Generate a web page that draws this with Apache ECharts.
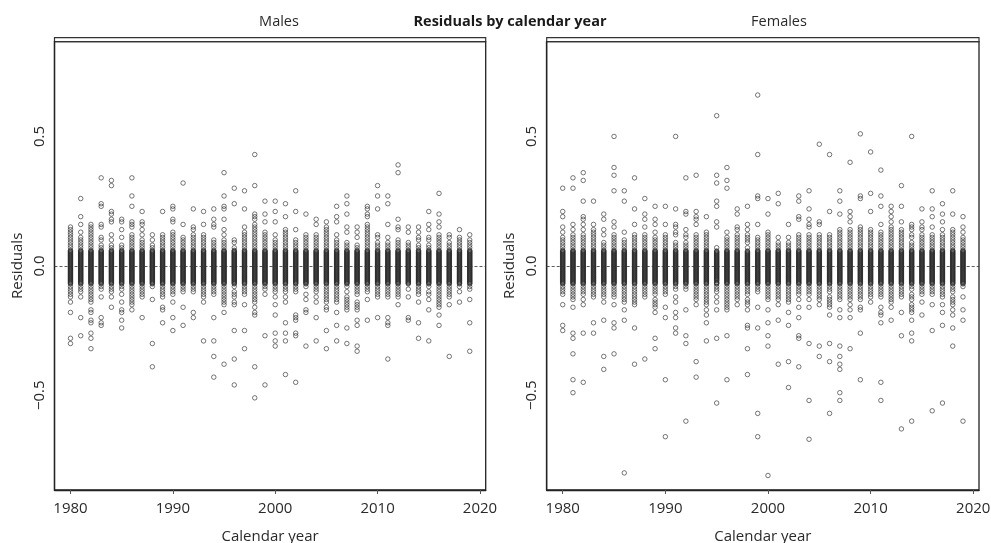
<!DOCTYPE html>
<html>
<head>
<meta charset="utf-8">
<script src="https://cdn.jsdelivr.net/npm/echarts@6/dist/echarts.min.js"></script>
<style>html,body{margin:0;padding:0;background:#fff}#c{width:991px;height:543px}</style>
</head>
<body>
<div id="c"></div>
<script>
const years = [1980,1981,1982,1983,1984,1985,1986,1987,1988,1989,1990,1991,1992,1993,1994,1995,1996,1997,1998,1999,2000,2001,2002,2003,2004,2005,2006,2007,2008,2009,2010,2011,2012,2013,2014,2015,2016,2017,2018,2019];
const xTicks = [1980,1990,2000,2010,2020];
const yTicks = [-0.5,0,0.5];
// residuals in hundredths, one array per calendar year
const malesResiduals = [
[15,14,13,12,11,10,9,8,7,6,5,4,3,2,1,0,-1,-2,-3,-4,-5,-6,-7,-8,-9,-10,-11,-12,-14,-18,-28,-30],
[26,19,16,13,11,10,9,8,7,6,5,4,3,2,1,0,-1,-2,-3,-4,-5,-6,-7,-8,-9,-10,-12,-20,-27],
[16,15,14,13,12,11,10,9,8,7,6,5,4,3,2,1,0,-1,-2,-3,-4,-5,-6,-7,-8,-9,-10,-11,-12,-13,-14,-17,-18,-21,-22,-26,-28,-32],
[34,24,23,16,15,11,10,8,7,6,5,4,3,2,1,0,-1,-2,-3,-4,-5,-6,-7,-8,-9,-12,-20,-22,-23],
[33,31,21,20,18,17,12,10,8,7,6,5,4,3,2,1,0,-1,-2,-3,-4,-5,-6,-7,-8,-9,-10,-12,-16],
[18,17,14,11,8,7,6,5,4,3,2,1,0,-1,-2,-3,-4,-5,-6,-7,-8,-9,-11,-14,-17,-18,-21,-24],
[34,27,23,17,16,15,12,11,10,9,8,7,6,5,4,3,2,1,0,-1,-2,-3,-4,-5,-6,-7,-8,-9,-10,-11,-12,-13,-14,-15,-17],
[21,17,16,14,12,10,9,8,7,6,5,4,3,2,1,0,-1,-2,-3,-4,-5,-6,-7,-8,-9,-10,-11,-12,-20],
[12,10,8,7,6,5,4,3,2,1,0,-1,-2,-3,-4,-5,-6,-7,-8,-13,-30,-39],
[21,12,11,10,9,8,7,6,5,4,3,2,1,0,-1,-2,-3,-4,-5,-6,-7,-8,-9,-10,-11,-12,-16,-17,-22],
[23,22,18,17,13,12,11,10,9,8,7,6,5,4,3,2,1,0,-1,-2,-3,-4,-5,-6,-7,-8,-9,-10,-11,-14,-20,-25],
[32,16,11,10,9,8,7,6,5,4,3,2,1,0,-1,-2,-3,-4,-5,-6,-7,-8,-9,-10,-16,-23],
[22,15,14,12,11,10,9,8,7,6,5,4,3,2,1,0,-1,-2,-3,-4,-5,-6,-7,-8,-9,-10,-18,-20],
[21,16,12,11,10,9,8,7,6,5,4,3,2,1,0,-1,-2,-3,-4,-5,-6,-7,-8,-9,-10,-11,-12,-14,-29],
[22,18,16,15,10,9,8,7,6,5,4,3,2,1,0,-1,-2,-3,-4,-5,-6,-7,-8,-9,-10,-11,-20,-29,-35,-43],
[36,27,23,22,18,14,12,10,9,8,7,6,5,4,3,2,1,0,-1,-2,-3,-4,-5,-6,-7,-8,-9,-10,-11,-12,-13,-14,-15,-18,-38],
[30,24,10,9,7,6,5,4,3,2,1,0,-1,-2,-3,-4,-5,-6,-7,-8,-10,-11,-12,-14,-15,-25,-36,-46],
[29,22,15,13,12,11,10,9,8,7,6,5,4,3,2,1,0,-1,-2,-3,-4,-5,-6,-7,-8,-9,-10,-11,-15,-25,-32],
[43,31,20,19,18,16,15,14,13,12,11,10,9,8,7,6,5,4,3,2,1,0,-1,-2,-3,-4,-5,-6,-7,-8,-9,-10,-11,-12,-13,-14,-16,-18,-19,-39,-51],
[25,20,17,13,12,11,10,9,8,7,6,5,4,3,2,1,0,-1,-2,-3,-4,-5,-6,-7,-8,-9,-11,-27,-46],
[25,21,17,12,10,9,8,7,6,5,4,3,2,1,0,-1,-2,-3,-4,-5,-6,-7,-8,-9,-10,-12,-15,-19,-26,-29,-31],
[24,19,14,13,12,11,10,9,8,7,6,5,4,3,2,1,0,-1,-2,-3,-4,-5,-6,-7,-8,-9,-10,-12,-14,-22,-26,-29,-42],
[29,21,14,10,9,8,7,6,5,4,3,2,1,0,-1,-2,-3,-4,-5,-6,-7,-8,-9,-10,-19,-20,-21,-26,-27,-45],
[20,12,11,10,9,8,7,6,5,4,3,2,1,0,-1,-2,-3,-4,-5,-6,-7,-8,-11,-13,-17,-18,-31],
[18,16,12,11,10,9,8,7,6,5,4,3,2,1,0,-1,-2,-3,-4,-5,-6,-7,-8,-9,-10,-12,-14,-20,-29],
[17,15,14,13,12,11,10,9,8,7,6,5,4,3,2,1,0,-1,-2,-3,-4,-5,-6,-7,-8,-9,-10,-11,-12,-13,-14,-16,-17,-25,-32],
[23,19,17,12,10,9,8,7,6,5,4,3,2,1,0,-1,-2,-3,-4,-5,-6,-7,-8,-9,-10,-11,-12,-13,-14,-18,-23,-29],
[27,24,20,15,13,9,8,7,6,5,4,3,2,1,0,-1,-2,-3,-4,-5,-6,-7,-8,-10,-12,-13,-14,-15,-16,-17,-24,-30],
[15,13,11,8,7,6,5,4,3,2,1,0,-1,-2,-3,-4,-5,-6,-7,-8,-9,-10,-11,-14,-15,-16,-17,-21,-23,-31,-33],
[23,22,20,19,16,15,14,13,12,11,10,9,8,7,6,5,4,3,2,1,0,-1,-2,-3,-4,-5,-6,-7,-8,-9,-10,-13,-21],
[31,27,22,12,11,9,8,7,6,5,4,3,2,1,0,-1,-2,-3,-4,-5,-6,-7,-8,-9,-10,-11,-12,-20],
[27,24,16,11,9,8,7,6,5,4,3,2,1,0,-1,-2,-3,-4,-5,-6,-7,-8,-9,-10,-11,-12,-20,-22,-23,-36],
[39,36,18,15,14,10,9,8,7,6,5,4,3,2,1,0,-1,-2,-3,-4,-5,-6,-7,-8,-9,-10,-11,-12,-15],
[15,13,9,8,7,6,5,4,3,2,1,0,-1,-2,-3,-4,-5,-6,-7,-9,-12,-20,-21],
[15,13,11,10,8,7,6,5,4,3,2,1,0,-1,-2,-3,-4,-5,-6,-7,-8,-9,-10,-11,-14,-22,-28],
[21,16,14,11,10,8,7,6,5,4,3,2,1,0,-1,-2,-3,-4,-5,-6,-7,-8,-10,-11,-13,-17,-29],
[28,20,17,15,12,11,10,9,8,7,6,5,4,3,2,1,0,-1,-2,-3,-4,-5,-6,-7,-8,-9,-10,-11,-12,-13,-14,-15,-16,-19,-23],
[12,11,9,8,7,6,5,4,3,2,1,0,-1,-2,-3,-4,-5,-6,-7,-8,-9,-10,-11,-12,-15,-35],
[14,11,10,9,8,7,6,5,4,3,2,1,0,-1,-2,-3,-4,-5,-6,-7,-8,-10,-14],
[12,10,9,8,7,6,5,4,3,2,1,0,-1,-2,-3,-4,-5,-6,-7,-8,-9,-13,-22,-33]
];
const femalesResiduals = [
[30,21,19,15,13,11,10,9,8,7,6,5,4,3,2,1,0,-1,-2,-3,-4,-5,-6,-7,-8,-9,-10,-11,-15,-23,-25],
[34,30,16,14,12,11,10,9,8,7,6,5,4,3,2,1,0,-1,-2,-3,-4,-5,-6,-7,-8,-9,-10,-11,-12,-13,-16,-26,-28,-34,-44,-49],
[36,33,25,19,18,16,14,12,11,10,9,8,7,6,5,4,3,2,1,0,-1,-2,-3,-4,-5,-6,-7,-8,-9,-10,-11,-13,-15,-26,-45],
[25,16,14,13,12,11,10,9,8,7,6,5,4,3,2,1,0,-1,-2,-3,-4,-5,-6,-7,-8,-9,-10,-11,-12,-22,-26],
[20,18,14,12,9,8,7,6,5,4,3,2,1,0,-1,-2,-3,-4,-5,-6,-7,-8,-9,-10,-11,-12,-14,-21,-35,-40],
[50,38,35,29,17,15,12,11,10,9,8,7,6,5,4,3,2,1,0,-1,-2,-3,-4,-5,-6,-7,-8,-9,-10,-11,-12,-15,-22,-24,-34],
[29,25,13,10,9,8,7,6,5,4,3,2,1,0,-1,-2,-3,-4,-5,-6,-7,-8,-9,-10,-11,-12,-13,-14,-17,-21,-80],
[34,22,16,12,11,10,9,8,7,6,5,4,3,2,1,0,-1,-2,-3,-4,-5,-6,-7,-8,-9,-10,-11,-12,-13,-14,-15,-24,-38],
[26,20,18,15,12,11,10,9,8,7,6,5,4,3,2,1,0,-1,-2,-3,-4,-5,-6,-7,-8,-9,-10,-11,-12,-36],
[23,18,16,13,11,10,9,8,7,6,5,4,3,2,1,0,-1,-2,-3,-4,-5,-6,-7,-8,-9,-10,-11,-13,-14,-15,-16,-18,-28,-32],
[23,16,12,11,10,9,8,7,6,5,4,3,2,1,0,-1,-2,-3,-4,-5,-6,-7,-8,-9,-10,-11,-16,-20,-44,-66],
[50,22,16,15,13,12,9,8,7,6,5,4,3,2,1,0,-1,-2,-3,-4,-5,-6,-7,-8,-9,-12,-14,-18,-20,-24,-26],
[34,21,20,14,12,11,9,8,7,6,5,4,3,2,1,0,-1,-2,-3,-4,-5,-6,-7,-8,-9,-17,-27,-30,-60],
[35,21,19,18,16,12,11,10,9,8,7,6,5,4,3,2,1,0,-1,-2,-3,-4,-5,-6,-7,-8,-9,-10,-11,-12,-13,-15,-37,-43],
[19,13,12,11,10,9,8,7,6,5,4,3,2,1,0,-1,-2,-3,-4,-5,-6,-7,-8,-9,-10,-11,-12,-13,-14,-15,-17,-19,-22,-29],
[58,35,32,25,23,17,15,7,5,4,3,2,1,0,-1,-2,-3,-4,-5,-7,-8,-9,-10,-12,-14,-17,-28,-53],
[38,33,30,13,11,10,9,8,7,6,5,4,3,2,1,0,-1,-2,-3,-4,-5,-6,-7,-8,-9,-10,-11,-12,-13,-14,-15,-16,-17,-27,-44],
[22,20,15,14,12,11,10,9,8,7,6,5,4,3,2,1,0,-1,-2,-3,-4,-5,-6,-7,-8,-9,-10,-11,-12,-13,-15],
[23,16,14,12,11,10,9,7,5,4,3,2,1,0,-1,-2,-3,-4,-5,-6,-7,-8,-9,-10,-11,-13,-14,-15,-17,-23,-24,-32,-42],
[66,43,27,26,16,11,10,9,8,7,6,5,4,3,2,1,0,-1,-2,-3,-4,-5,-6,-7,-8,-9,-10,-16,-24,-57,-66],
[26,20,13,12,11,10,9,8,7,6,5,4,3,2,1,0,-1,-2,-3,-4,-5,-6,-7,-8,-9,-10,-11,-12,-13,-17,-22,-27,-31,-81],
[28,24,11,9,8,7,6,5,4,3,2,1,0,-1,-2,-3,-4,-5,-6,-7,-8,-9,-10,-11,-12,-13,-15,-21,-38],
[16,11,9,8,7,6,5,4,3,2,1,0,-1,-2,-3,-4,-5,-6,-7,-8,-9,-10,-11,-12,-13,-14,-18,-23,-37,-47],
[27,25,19,18,12,11,10,9,8,7,6,5,4,3,2,1,0,-1,-2,-3,-4,-5,-6,-7,-8,-9,-10,-11,-13,-16,-20,-27,-28,-39],
[29,22,18,16,15,12,11,10,9,8,7,6,5,4,3,2,1,0,-1,-2,-3,-4,-5,-6,-7,-8,-9,-10,-11,-13,-16,-30,-52,-67],
[47,17,16,12,11,10,9,8,7,6,5,4,3,2,1,0,-1,-2,-3,-4,-5,-6,-7,-8,-9,-10,-11,-12,-13,-15,-31,-35],
[43,21,12,11,10,9,8,7,6,5,4,3,2,1,0,-1,-2,-3,-4,-5,-6,-7,-8,-9,-10,-12,-13,-14,-15,-16,-19,-30,-37,-57],
[29,25,20,14,13,12,11,10,9,8,7,6,5,4,3,2,1,0,-1,-2,-3,-4,-5,-6,-7,-8,-9,-10,-11,-12,-13,-17,-20,-31,-35,-38,-40,-49,-52],
[40,21,19,17,14,13,12,11,10,9,8,7,6,5,4,3,2,1,0,-1,-2,-3,-4,-5,-6,-7,-8,-9,-10,-11,-12,-13,-15,-17,-20,-32],
[51,27,26,15,14,13,12,11,10,9,8,7,6,5,4,3,2,1,0,-1,-2,-3,-4,-5,-6,-7,-8,-9,-10,-11,-12,-13,-16,-17,-26,-44],
[44,28,21,14,13,12,11,10,9,8,7,6,5,4,3,2,1,0,-1,-2,-3,-4,-5,-6,-7,-8,-9,-10,-11,-12,-14],
[37,27,23,16,13,12,11,10,9,8,7,6,5,4,3,2,1,0,-1,-2,-3,-4,-5,-6,-7,-8,-9,-10,-11,-12,-16,-18,-19,-22,-45,-52],
[23,21,19,17,15,14,13,12,11,10,9,8,7,6,5,4,3,2,1,0,-1,-2,-3,-4,-5,-6,-7,-8,-9,-10,-11,-12,-13,-14,-16,-21],
[31,23,17,14,13,12,11,10,9,8,7,6,5,4,3,2,1,0,-1,-2,-3,-4,-5,-6,-7,-8,-9,-10,-11,-12,-18,-27,-63],
[50,16,15,14,12,11,9,8,7,6,5,4,3,2,1,0,-1,-2,-3,-4,-5,-6,-7,-8,-9,-11,-12,-13,-15,-16,-17,-18,-21,-26,-29,-60],
[22,17,15,14,12,11,10,9,8,7,6,5,4,3,2,1,0,-1,-2,-3,-4,-5,-6,-7,-8,-9,-10,-11,-14,-19],
[29,22,19,15,12,11,10,9,8,7,6,5,4,3,2,1,0,-1,-2,-3,-4,-5,-6,-7,-8,-9,-10,-11,-15,-25,-56],
[24,20,17,14,12,11,10,9,8,7,6,5,4,3,2,1,0,-1,-2,-3,-4,-5,-6,-7,-8,-9,-10,-11,-12,-15,-18,-23,-53],
[29,20,14,13,12,11,10,9,8,7,6,5,4,3,2,1,0,-1,-2,-3,-4,-5,-6,-7,-8,-9,-10,-12,-13,-14,-15,-17,-19,-24,-31],
[19,15,13,11,10,9,8,7,6,5,4,3,2,1,0,-1,-2,-3,-4,-5,-6,-7,-8,-12,-17,-21,-60]
];
// additional overlapping residuals inside the dense central band of every year (hundredths)
const malesCoreBand = [5.75,5.5,5.25,4.75,4.5,4.25,3.75,3.5,3.25,2.75,2.5,2.25,1.75,1.5,1.25,0.75,0.5,0.25,-0.25,-0.5,-0.75,-1.25,-1.5,-1.75,-2.25,-2.5,-2.75,-3.25,-3.5,-3.75,-4.25,-4.5,-4.75,-5.25,-5.5,-5.75,-6.25,-6.5,-6.75];
const femalesCoreBand = [5.75,5.5,5.25,4.75,4.5,4.25,3.75,3.5,3.25,2.75,2.5,2.25,1.75,1.5,1.25,0.75,0.5,0.25,-0.25,-0.5,-0.75,-1.25,-1.5,-1.75,-2.25,-2.5,-2.75,-3.25,-3.5,-3.75,-4.25,-4.5,-4.75,-5.25,-5.5,-5.75,-6.25,-6.5,-6.75];

function toPoints(res, band) {
  const pts = [];
  res.forEach((arr, i) => {
    arr.forEach(v => pts.push([years[i], v / 100]));
    band.forEach(v => pts.push([years[i], v / 100]));
  });
  return pts;
}
const FONT = 'Open Sans';
const fmtY = v => (v < 0 ? '\u2212' + Math.abs(v).toFixed(1) : v.toFixed(1));

const panels = [
  { left: 54.5, right: 505.3, name: 'Males', data: malesResiduals, band: malesCoreBand },
  { left: 546.7, right: 12, name: 'Females', data: femalesResiduals, band: femalesCoreBand }
];
const TOP = 41.7, BOTTOM = 53;

const chart = echarts.init(document.getElementById('c'), null, { renderer: 'canvas' });
const option = {
  animation: false,
  backgroundColor: '#fff',
  textStyle: { fontFamily: FONT },
  title: [
    { text: 'Residuals by calendar year', left: 505, top: 9, textAlign: 'center',
      textStyle: { fontFamily: FONT, fontSize: 14.5, fontWeight: 'bold', color: '#1a1a1a' } },
    { text: 'Males', left: 274, top: 9, textAlign: 'center',
      textStyle: { fontFamily: FONT, fontSize: 14.5, fontWeight: 'normal', color: '#2a2a2a' } },
    { text: 'Females', left: 774, top: 9, textAlign: 'center',
      textStyle: { fontFamily: FONT, fontSize: 14.5, fontWeight: 'normal', color: '#2a2a2a' } }
  ],
  grid: panels.map(p => ({ left: p.left, right: p.right, top: TOP, bottom: BOTTOM,
    containLabel: false, outerBoundsMode: 'none',
    show: true, borderColor: '#222', borderWidth: 1.3, backgroundColor: 'transparent' })),
  xAxis: panels.map((p, i) => ({
    type: 'value', gridIndex: i, min: 1978.44, max: 2020.56,
    name: 'Calendar year', nameLocation: 'middle', nameGap: 39,
    nameTextStyle: { fontFamily: FONT, fontSize: 15, color: '#2a2a2a' },
    axisLine: { show: true, onZero: false, lineStyle: { color: '#222', width: 1.3 } },
    axisTick: { show: true, length: 4, customValues: xTicks, lineStyle: { color: '#555' } },
    axisLabel: { customValues: xTicks, margin: 11, fontFamily: FONT, fontSize: 15, color: '#2a2a2a',
      formatter: v => String(v) },
    splitLine: { show: false }
  })),
  yAxis: panels.map((p, i) => ({
    type: 'value', gridIndex: i, min: -0.866, max: 0.866,
    name: 'Residuals', nameLocation: 'middle', nameGap: 29, nameRotate: 90,
    nameTextStyle: { fontFamily: FONT, fontSize: 15, color: '#2a2a2a' },
    axisLine: { show: true, onZero: false, lineStyle: { color: '#222', width: 1.3 } },
    axisTick: { show: false, customValues: yTicks },
    axisLabel: { customValues: yTicks, rotate: 90, margin: 7, fontFamily: FONT, fontSize: 15, color: '#2a2a2a',
      formatter: fmtY },
    splitLine: { show: false }
  })),
  graphic: panels.map(p => ({
    type: 'rect', silent: true,
    shape: { x: p.left, y: 37.7, width: 991 - p.left - p.right, height: TOP - 37.7 },
    style: { fill: 'none', stroke: '#333', lineWidth: 1.2 }
  })),
  series: panels.map((p, i) => ({
    type: 'scatter', xAxisIndex: i, yAxisIndex: i,
    data: toPoints(p.data, p.band),
    symbol: 'circle', symbolSize: 4.5,
    itemStyle: { color: 'rgba(0,0,0,0)', borderColor: '#2a2a2a', borderWidth: 0.8 },
    silent: true,
    markLine: {
      silent: true, symbol: ['none', 'none'], label: { show: false },
      lineStyle: { type: [3, 2], color: '#333', width: 0.8 },
      data: [{ yAxis: 0 }]
    }
  }))
};
chart.setOption(option);
</script>
</body>
</html>
